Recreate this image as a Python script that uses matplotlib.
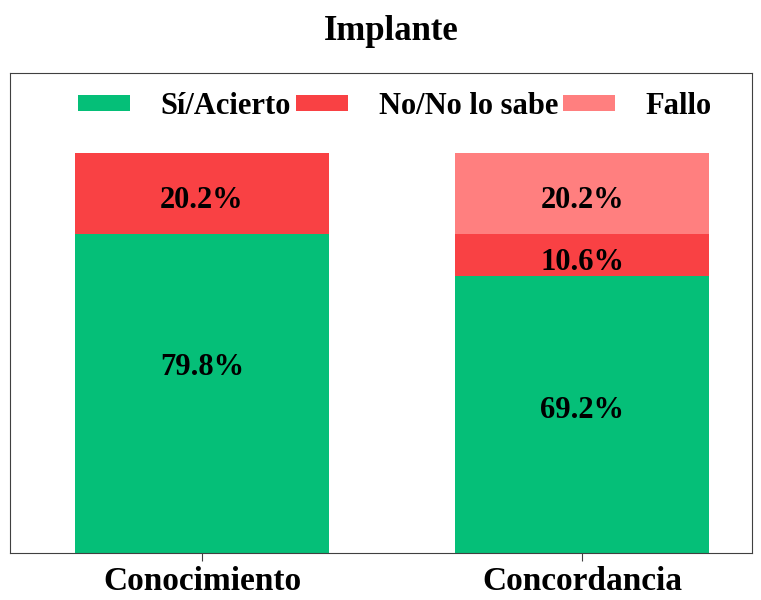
import numpy as np
import matplotlib.pyplot as plt

plt.rcParams['font.family'] = ['Liberation Serif', 'DejaVu Serif']
plt.rcParams['font.weight'] = 'bold'

categorias = ['Conocimiento', 'Concordancia']
acierto = [79.8, 69.2]
no_sabe = [20.2, 10.6]
fallo = [0.0, 20.2]

c_verde = '#05BF78'
c_rojo = '#F94144'
c_rosa = '#FF7F7F'

fig = plt.figure(figsize=(7.61, 6.0), dpi=100)
ax = fig.add_axes([10/761, 47/600, 742/761, 480/600])

x = np.arange(len(categorias))
w = 0.667
b1 = ax.bar(x, acierto, w, color=c_verde, label='Sí/Acierto')
b2 = ax.bar(x, no_sabe, w, bottom=acierto, color=c_rojo, label='No/No lo sabe')
base3 = np.array(acierto) + np.array(no_sabe)
b3 = ax.bar(x, fallo, w, bottom=base3, color=c_rosa, label='Fallo')

# etiquetas de porcentaje en cada segmento (las verdes algo más arriba)
desplaz = {(0, 0): 8.4, (0, 1): 2.8}
grupos = [(b1, acierto, np.zeros(2)), (b2, no_sabe, acierto), (b3, fallo, base3)]
for k, (bars, vals, bots) in enumerate(grupos):
    for i, (r, v, b) in enumerate(zip(bars, vals, bots)):
        if v > 0:
            yy = b + v/2 + desplaz.get((k, i), 0) - 1.0
            ax.text(r.get_x() + r.get_width()/2, yy, f'{v:.1f}%',
                    ha='center', va='center_baseline', fontsize=22, fontweight='bold')

ax.set_xlim(-0.505, 1.447)
ax.set_ylim(0, 120)
ax.set_yticks([])
ax.set_xticks(x)
ax.set_xticklabels(categorias, fontsize=24, fontweight='bold')
ax.tick_params(axis='x', length=6, pad=3, color='#404040')
for s in ax.spines.values():
    s.set_color('#404040')

ax.set_title('Implante', fontsize=25, fontweight='bold', pad=24, x=0.5135)

ax.legend(loc='center', ncol=3, frameon=False, fontsize=22,
          handlelength=1.7, handleheight=0.42, handletextpad=1.0,
          columnspacing=0.17, bbox_to_anchor=(0.519, 0.931))

fig.savefig('out.png', dpi=100)
